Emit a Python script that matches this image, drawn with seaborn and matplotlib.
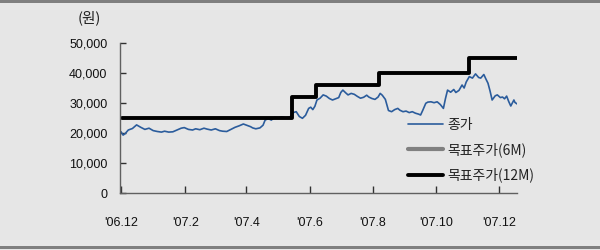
import matplotlib
matplotlib.use("Agg")
import matplotlib.pyplot as plt
from matplotlib.patches import Rectangle
import seaborn as sns
import pandas as pd

# ---- data ----
start_date = "2006-12-01"
price_days = [0, 2, 4, 7, 11, 15, 19, 23, 27, 31, 35, 39, 42, 46, 50, 54, 58, 61, 65, 69,
              72, 76, 80, 83, 87, 91, 95, 98, 102, 106, 110, 114, 118, 121, 125, 127, 130, 134, 137, 139,
              142, 145, 148, 152, 155, 159, 163, 166, 169, 172, 175, 178, 181, 183, 185, 187, 189, 192, 195, 198,
              201, 204, 207, 210, 212, 214, 217, 219, 222, 225, 228, 231, 234, 237, 239, 242, 245, 248, 250, 252,
              255, 258, 261, 264, 267, 269, 272, 275, 278, 281, 284, 287, 289, 291, 294, 296, 299, 302, 305, 308,
              311, 313, 315, 318, 321, 323, 326, 329, 331, 333, 336, 339, 342, 345, 347, 350, 352, 354, 356, 358,
              361, 363, 366, 368, 370, 372, 374, 376, 379, 380, 382]
price_vals = [20400, 19300, 19800, 21000, 21500, 22700, 21900, 21200, 21600, 20800, 20500, 20300, 20600, 20300, 20400, 21000, 21600, 21800, 21200, 21000,
              21400, 21100, 21600, 21300, 21000, 21400, 20800, 20600, 20500, 21200, 21900, 22400, 23000, 22600, 22100, 21700, 21400, 21700, 22600, 24300,
              24800, 24300, 25200, 25100, 25400, 25000, 25300, 26800, 27100, 25500, 24900, 25900, 28200, 28600, 27800, 28900, 31000, 31600, 32700, 32300,
              31500, 31000, 31400, 31800, 33500, 34300, 33300, 32700, 33200, 32900, 32200, 31600, 31900, 32600, 32000, 31500, 31200, 32000, 33200, 32600,
              31200, 27500, 27100, 27800, 28200, 27600, 27100, 27300, 26800, 27100, 26600, 26300, 26000, 27500, 29900, 30300, 30400, 30100, 30400, 29500,
              28200, 31500, 34300, 33600, 34500, 33500, 34200, 36000, 35000, 37000, 38800, 38300, 39700, 38500, 38300, 39500, 38000, 36600, 34000, 31000,
              32400, 32700, 31800, 32000, 31400, 32300, 30500, 29000, 31000, 30200, 29700]

target12_days = [1, 165, 188, 249, 336, 382]
target12_vals = [25000, 32000, 36000, 40000, 45000, 45000]

target6_days = []
target6_vals = []

labels = ["종가", "목표주가(6M)", "목표주가(12M)"]
tick_dates = ["2006-12-01", "2007-02-01", "2007-04-01", "2007-06-01", "2007-08-01", "2007-10-01", "2007-12-01"]
tick_labels = ["'06.12", "'07.2", "'07.4", "'07.6", "'07.8", "'07.10", "'07.12"]
y_ticks = [0, 10000, 20000, 30000, 40000, 50000]
y_unit = "(원)"

# ---- frames ----
t0 = pd.Timestamp(start_date)
price_df = pd.DataFrame({"date": t0 + pd.to_timedelta(price_days, "D"), "value": price_vals})
t12_df = pd.DataFrame({"date": t0 + pd.to_timedelta(target12_days, "D"), "value": target12_vals})

# ---- style ----
sns.set_style("ticks")
bg = "#e6e6e6"
plt.rcParams["font.family"] = ["Liberation Sans", "Noto Sans CJK KR", "DejaVu Sans"]

fig = plt.figure(figsize=(6, 2.5), dpi=100, facecolor=bg)
ax = fig.add_axes([120 / 600, 1 - 193 / 250, (517 - 120) / 600, (193 - 43) / 250])
ax.set_facecolor(bg)

blue = "#2b5c9c"
sns.lineplot(data=price_df, x="date", y="value", ax=ax, color=blue, linewidth=1.2, label=labels[0])
ax.plot(target6_days, target6_vals, color="#808080", linewidth=3, label=labels[1])
sns.lineplot(data=t12_df, x="date", y="value", ax=ax, color="black", linewidth=2.8,
             drawstyle="steps-post", label=labels[2])

ax.set_ylim(0, 50000)
ax.set_xlim(t0 - pd.Timedelta(days=1), t0 + pd.Timedelta(days=382))
ax.set_yticks(y_ticks)
ax.set_yticklabels([f"{v:,}" for v in y_ticks])
ax.set_xticks(pd.to_datetime(tick_dates))
ax.set_xticklabels(tick_labels)
ax.set_xlabel("")
ax.set_ylabel("")

for s in ["top", "right"]:
    ax.spines[s].set_visible(False)
for s in ["left", "bottom"]:
    ax.spines[s].set_color("#606060")
    ax.spines[s].set_linewidth(1.0)

ax.tick_params(axis="y", direction="in", length=4, width=1, color="#303030", pad=9,
               labelsize=9, labelcolor="#111111")
ax.tick_params(axis="x", direction="in", length=5, width=1, color="#303030", pad=17,
               labelsize=9, labelcolor="#111111")

fig.text(89 / 600, 1 - 18 / 250, y_unit, ha="center", va="center", fontsize=10.5,
         family=["Noto Sans CJK KR", "DejaVu Sans"], color="#222222")

leg = ax.legend(loc="upper left", bbox_to_anchor=(408 / 600, 1 - 118 / 250),
                bbox_transform=fig.transFigure, frameon=False, handlelength=2.5,
                handletextpad=0.3, labelspacing=0.75, borderaxespad=0, borderpad=0,
                prop={"family": ["Noto Sans CJK KR", "DejaVu Sans"], "size": 10})
for t in leg.get_texts():
    t.set_color("#222222")

# frame bands
fig.patches.append(Rectangle((0, 1 - 2.5 / 250), 1, 2.5 / 250, transform=fig.transFigure,
                             facecolor="#7f7f7f", edgecolor="none"))
fig.patches.append(Rectangle((0, 1 / 250), 1, 3.5 / 250, transform=fig.transFigure,
                             facecolor="#7f7f7f", edgecolor="none"))

fig.savefig("out.png", dpi=100, facecolor=bg)
